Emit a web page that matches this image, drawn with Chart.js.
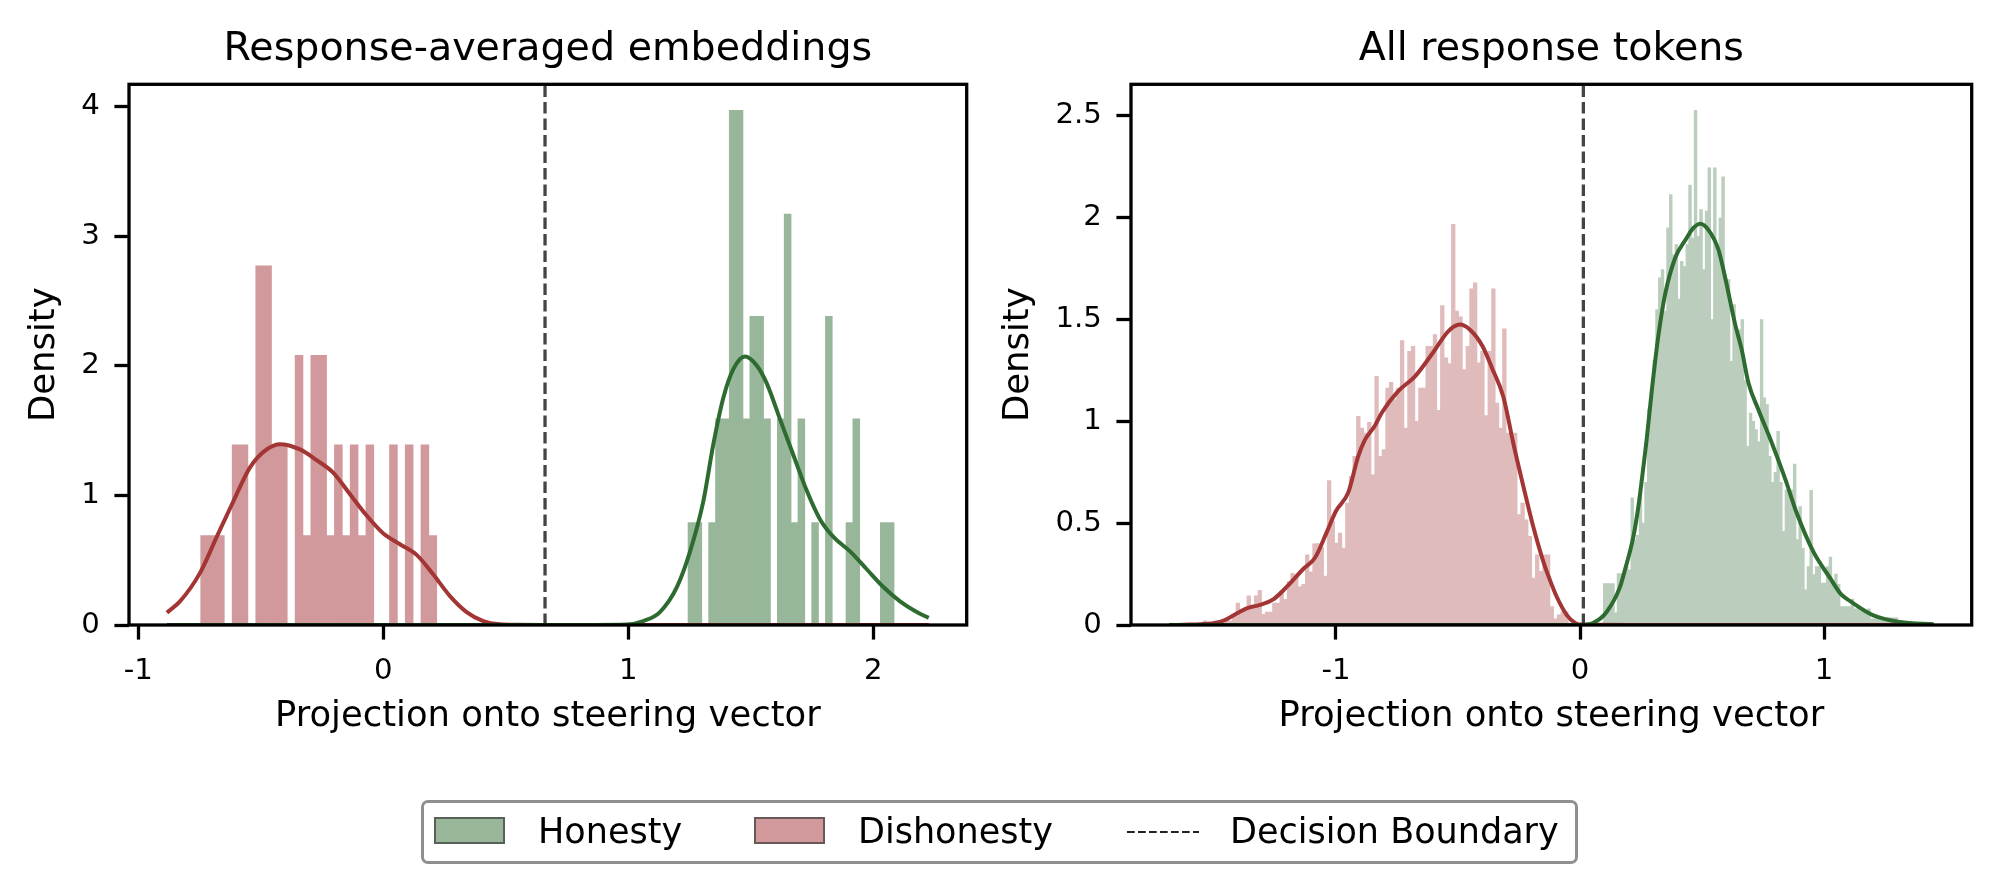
<!DOCTYPE html>
<html>
<head>
<meta charset="utf-8">
<script src="https://cdn.jsdelivr.net/npm/chart.js@4.4.0/dist/chart.umd.min.js"></script>
<style>
  html, body { margin: 0; padding: 0; background: #fff; }
  #wrap { position: relative; width: 1999px; height: 893px; overflow: hidden; font-family: 'DejaVu Sans', sans-serif; }
  #wrap canvas { position: absolute; left: 0; top: 0; }
  #legendBox { position: absolute; left: 421px; top: 800px; width: 1157px; height: 64px; box-sizing: border-box;
    border: 3px solid #8f8f8f; border-radius: 7px; }
  .sw { position: absolute; top: 817px; width: 71px; height: 27px; box-sizing: border-box; border: 2px solid rgba(60,60,60,0.7); }
  .lt { position: absolute; top: 814px; font-size: 35px; line-height: 35px; color: #000; white-space: nowrap; }
  #legendDash { position: absolute; left: 1127px; top: 826px; }
</style>
</head>
<body>
<div id="wrap">
  <canvas id="avgChart" width="1999" height="893"></canvas>
  <canvas id="tokChart" width="1999" height="893"></canvas>
  <div id="legendBox"></div>
  <div class="sw" style="left:434px; background:#98b79a;"></div>
  <span class="lt" style="left:538px;">Honesty</span>
  <div class="sw" style="left:754px; background:#d1999b;"></div>
  <span class="lt" style="left:858px;">Dishonesty</span>
  <svg id="legendDash" width="72" height="12"><line x1="0" y1="6" x2="72" y2="6" stroke="#222" stroke-width="2" stroke-dasharray="7.7 3.3"/></svg>
  <span class="lt" style="left:1230px;">Decision Boundary</span>
</div>
<script>
// ---- response-averaged embeddings (left) ----
const avgTitle = "Response-averaged embeddings";
const avgTicksX = [-1, 0, 1, 2];
const avgTicksY = [0, 1, 2, 3, 4];
const avgBoundary = 0.66;

const avgHonestStart = 1.2437;
const avgHonestWidth = 0.02803;
const avgHonestDensity = [0.79, 0.79, 0, 0.79, 1.59, 1.59, 3.97, 3.97, 1.59, 2.38,
  2.38, 1.59, 0, 1.59, 3.17, 0.79, 1.59, 0, 0.79, 0,
  2.38, 0, 0, 0.79, 1.59, 0, 0, 0, 0.79, 0.79];

const avgDishonestStart = -0.7454;
const avgDishonestWidth = 0.03211;
const avgDishonestDensity = [0.69, 0.69, 0.69, 0, 1.39, 1.39, 0, 2.77, 2.77, 1.39,
  1.39, 0, 2.08, 0.69, 2.08, 2.08, 0.69, 1.39, 0.69, 1.39,
  0.69, 1.39, 0, 0, 1.39, 0, 1.39, 0, 1.39, 0.69];

const avgHonestKdeX = [-0.883, -0.4, 0, 0.4, 0.7, 0.85, 0.993, 1.061, 1.129, 1.198, 1.252, 1.306, 1.347, 1.388,
  1.429, 1.476, 1.524, 1.565, 1.619, 1.673, 1.728, 1.782, 1.837, 1.905, 1.973, 2.041, 2.109, 2.177, 2.226];
const avgHonestKdeY = [0, 0, 0, 0, 0, 0.0005, 0.003, 0.03, 0.1, 0.292, 0.568, 0.954, 1.395, 1.754,
  1.975, 2.071, 2.002, 1.864, 1.588, 1.313, 1.037, 0.816, 0.679, 0.568, 0.43, 0.293, 0.182, 0.1, 0.055];

const avgDishonestKdeX = [-0.883, -0.83, -0.748, -0.68, -0.612, -0.544, -0.476, -0.422, -0.34, -0.272, -0.204,
  -0.136, -0.068, 0, 0.068, 0.136, 0.204, 0.272, 0.34, 0.408, 0.476, 0.55, 0.65, 0.8, 1.2, 1.6, 2.0, 2.226];
const avgDishonestKdeY = [0.095, 0.182, 0.402, 0.679, 0.954, 1.216, 1.354, 1.395, 1.354, 1.271, 1.174,
  1.009, 0.844, 0.706, 0.623, 0.541, 0.389, 0.223, 0.1, 0.03, 0.005, 0.001, 0, 0, 0, 0, 0, 0];

// ---- all response tokens (right) ----
const tokTitle = "All response tokens";
const tokTicksX = [-1, 0, 1];
const tokTicksY = [0, 0.5, 1, 1.5, 2, 2.5];
const tokBoundary = 0.0137;

const tokHonestStart = 0.0955;
const tokHonestWidth = 0.01128;
const tokHonestDensity = [0.204, 0.204, 0.204, 0.204, 0.06, 0.253, 0.253, 0.24, 0.288, 0.271,
  0.624, 0.419, 0.44, 0.648, 0.501, 0.7, 1.06, 1.12, 1.3, 1.549,
  1.705, 1.745, 1.541, 1.95, 2.114, 1.819, 1.868, 1.6, 1.786, 1.76,
  1.868, 2.16, 1.9, 2.527, 1.909, 2.04, 1.745, 2.032, 2.245, 1.5,
  2.245, 1.827, 2.0, 2.201, 1.696, 1.696, 1.295, 1.573, 1.45, 1.45,
  1.5, 1.2, 0.877, 1.041, 1.0, 0.959, 0.9, 1.5, 1.115, 1.082,
  0.828, 0.7, 0.75, 0.951, 0.7, 0.46, 0.664, 0.66, 0.664, 0.79,
  0.419, 0.582, 0.378, 0.173, 0.287, 0.661, 0.247, 0.287, 0.287, 0.206,
  0.206, 0.287, 0.334, 0.2, 0.25, 0.2, 0.09, 0.09, 0.09, 0.09,
  0.127, 0.08, 0.08, 0.07, 0.07, 0.07, 0.08, 0.03, 0.03, 0.03,
  0.03, 0.03, 0.03, 0.035, 0.035, 0.035, 0.035, 0.01, 0.005, 0.005,
  0, 0.005, 0, 0, 0.005, 0, 0, 0, 0, 0.005];

const tokDishonestStart = -1.679;
const tokDishonestWidth = 0.01496;
const tokDishonestDensity = [0.01, 0, 0, 0, 0, 0, 0.005, 0, 0.005, 0.02,
  0.01, 0, 0.02, 0.02, 0.01, 0.03, 0.02, 0.05, 0.108, 0.064,
  0.07, 0.143, 0.099, 0.143, 0.17, 0.052, 0.064, 0.064, 0.108, 0.108,
  0.166, 0.126, 0.213, 0.254, 0.24, 0.187, 0.2, 0.345, 0.261, 0.398,
  0.4, 0.38, 0.24, 0.709, 0.509, 0.402, 0.451, 0.378, 0.599, 0.73,
  0.828, 1.025, 0.967, 0.943, 0.995, 0.738, 1.221, 0.828, 0.861, 1.164,
  1.192, 1.107, 1.164, 1.397, 0.967, 1.344, 1.369, 1.0, 1.164, 1.164,
  1.369, 1.369, 1.426, 1.054, 1.569, 1.312, 1.284, 1.967, 1.541, 1.513,
  1.254, 1.369, 1.651, 1.68, 1.287, 1.344, 1.028, 1.344, 1.651, 1.09,
  0.967, 1.454, 0.943, 0.91, 0.943, 0.542, 0.599, 0.517, 0.435, 0.23,
  0.345, 0.263, 0.345, 0.345, 0.09, 0.03, 0.05, 0.065, 0.065];

const tokHonestKdeX = [-1.683, -0.5, 0, 0.055, 0.109, 0.164, 0.184, 0.218, 0.239, 0.259, 0.273, 0.294, 0.321,
  0.348, 0.389, 0.437, 0.458, 0.492, 0.526, 0.567, 0.594, 0.635, 0.663, 0.69, 0.731, 0.786, 0.84, 0.888,
  0.956, 1.025, 1.07, 1.107, 1.202, 1.311, 1.449];
const tokHonestKdeY = [0, 0, 0, 0.011, 0.064, 0.187, 0.27, 0.43, 0.58, 0.77, 0.91, 1.15, 1.42,
  1.62, 1.8, 1.9, 1.94, 1.97, 1.94, 1.843, 1.71, 1.48, 1.35, 1.19, 1.057, 0.894, 0.72, 0.55,
  0.36, 0.23, 0.15, 0.117, 0.047, 0.015, 0.004];

const tokDishonestKdeX = [-1.683, -1.6, -1.544, -1.475, -1.407, -1.366, -1.311, -1.257, -1.202, -1.134, -1.086,
  -1.04, -1.0, -0.95, -0.909, -0.881, -0.84, -0.813, -0.745, -0.676, -0.608, -0.54, -0.492, -0.451, -0.4,
  -0.36, -0.314, -0.273, -0.232, -0.191, -0.15, -0.123, -0.096, -0.055, -0.02, 0, 0.3, 0.8, 1.449];
const tokDishonestKdeY = [0, 0.002, 0.005, 0.015, 0.056, 0.082, 0.099, 0.126, 0.187, 0.275, 0.33,
  0.45, 0.56, 0.65, 0.828, 0.91, 0.98, 1.041, 1.148, 1.221, 1.328, 1.442, 1.475, 1.45, 1.37,
  1.26, 1.12, 0.89, 0.68, 0.48, 0.31, 0.22, 0.14, 0.05, 0.01, 0.002, 0, 0, 0];

const green = "#2e6b30";
const red = "#a33535";

Chart.defaults.font.family = "'DejaVu Sans', sans-serif";
Chart.defaults.color = "#000";

function hist(start, width, dens) {
  return dens.map((d, i) => ({ x: start + (i + 0.5) * width, y: d }));
}

function pts(xs, ys) {
  return xs.map((x, i) => ({ x: x, y: ys[i] }));
}

// matplotlib style box round the axes
const frame = {
  id: "frame",
  afterDatasetsDraw(chart) {
    const { ctx, chartArea: a } = chart;
    ctx.save();
    ctx.strokeStyle = "#000";
    ctx.lineWidth = 3.3;
    ctx.strokeRect(a.left, a.top, a.right - a.left, a.bottom - a.top);
    ctx.restore();
  }
};

function makeChart(id, cfg) {
  const lineSet = (label, data, color) => ({
    type: "line", label: label, data: data, borderColor: color, borderWidth: 4,
    pointRadius: 0, cubicInterpolationMode: "monotone", fill: false, xAxisID: "x"
  });
  const barSet = (label, data, color, axis) => ({
    type: "bar", label: label, data: data, backgroundColor: color, borderWidth: 0,
    barPercentage: 1, categoryPercentage: 1, grouped: false, xAxisID: axis
  });

  return new Chart(document.getElementById(id), {
    type: "bar",
    data: {
      datasets: [
        {
          type: "line", label: "Decision Boundary",
          data: [{ x: cfg.boundary, y: 0 }, { x: cfg.boundary, y: cfg.yMax }],
          borderColor: "#444", borderWidth: 3.3, borderDash: [11.5, 5], pointRadius: 0, xAxisID: "x"
        },
        lineSet("Honesty KDE", cfg.honestKde, green),
        lineSet("Dishonesty KDE", cfg.dishonestKde, red),
        barSet("Honesty", cfg.honestBars, cfg.honestColor, "x2"),
        barSet("Dishonesty", cfg.dishonestBars, cfg.dishonestColor, "x")
      ]
    },
    options: {
      responsive: false,
      animation: false,
      devicePixelRatio: 1,
      layout: { padding: cfg.pad },
      plugins: {
        legend: { display: false },
        tooltip: { enabled: false },
        title: {
          display: true, text: cfg.title, fullSize: false, color: "#000",
          font: { size: 39.6, weight: "normal" }, padding: { top: 25.6, bottom: 11.2 }
        }
      },
      scales: {
        x: {
          type: "linear", min: cfg.xMin, max: cfg.xMax, offset: false,
          border: { display: false },
          grid: { display: true, drawOnChartArea: false, drawTicks: true, tickLength: 14.6, tickWidth: 3.3, tickColor: "#000", offset: false },
          ticks: { font: { size: 29.2 }, padding: 14, maxRotation: 0, autoSkip: false, callback: (v) => String(v) },
          title: { display: true, text: "Projection onto steering vector", font: { size: 35.4 }, padding: { top: 0, bottom: 62.4 } },
          afterBuildTicks: (s) => { s.ticks = cfg.ticksX.map((v) => ({ value: v })); },
          afterFit: (s) => { s.height = 175; }
        },
        x2: { type: "linear", min: cfg.xMin, max: cfg.xMax, offset: false, display: false },
        y: {
          type: "linear", min: 0, max: cfg.yMax,
          border: { display: false },
          grid: { display: true, drawOnChartArea: false, drawTicks: true, tickLength: 14.6, tickWidth: 3.3, tickColor: "#000" },
          ticks: { font: { size: 29.2 }, padding: 14.6, autoSkip: false, callback: (v) => String(v) },
          title: { display: true, text: "Density", font: { size: 35.4 }, padding: { top: cfg.yTitlePad, bottom: 0 } },
          afterBuildTicks: (s) => { s.ticks = cfg.ticksY.map((v) => ({ value: v })); },
          afterFit: (s) => { s.width = cfg.yWidth; }
        }
      }
    },
    plugins: [frame]
  });
}

makeChart("avgChart", {
  title: avgTitle,
  pad: { left: 0, right: 1032.3, top: 0, bottom: 93 },
  yWidth: 129, yTitlePad: 23.5,
  xMin: -1.038, xMax: 2.381, yMax: 4.17,
  ticksX: avgTicksX, ticksY: avgTicksY,
  boundary: avgBoundary,
  honestBars: hist(avgHonestStart, avgHonestWidth, avgHonestDensity),
  dishonestBars: hist(avgDishonestStart, avgDishonestWidth, avgDishonestDensity),
  honestKde: pts(avgHonestKdeX, avgHonestKdeY),
  dishonestKde: pts(avgDishonestKdeX, avgDishonestKdeY),
  honestColor: "#98b79a", dishonestColor: "#d1999b"
});

makeChart("tokChart", {
  title: tokTitle,
  pad: { left: 990, right: 27.3, top: 0, bottom: 93 },
  yWidth: 141, yTitlePad: 7.6,
  xMin: -1.84, xMax: 1.605, yMax: 2.655,
  ticksX: tokTicksX, ticksY: tokTicksY,
  boundary: tokBoundary,
  honestBars: hist(tokHonestStart, tokHonestWidth, tokHonestDensity),
  dishonestBars: hist(tokDishonestStart, tokDishonestWidth, tokDishonestDensity),
  honestKde: pts(tokHonestKdeX, tokHonestKdeY),
  dishonestKde: pts(tokDishonestKdeX, tokDishonestKdeY),
  honestColor: "#bbcdbc", dishonestColor: "#e0bbbc"
});
</script>
</body>
</html>
